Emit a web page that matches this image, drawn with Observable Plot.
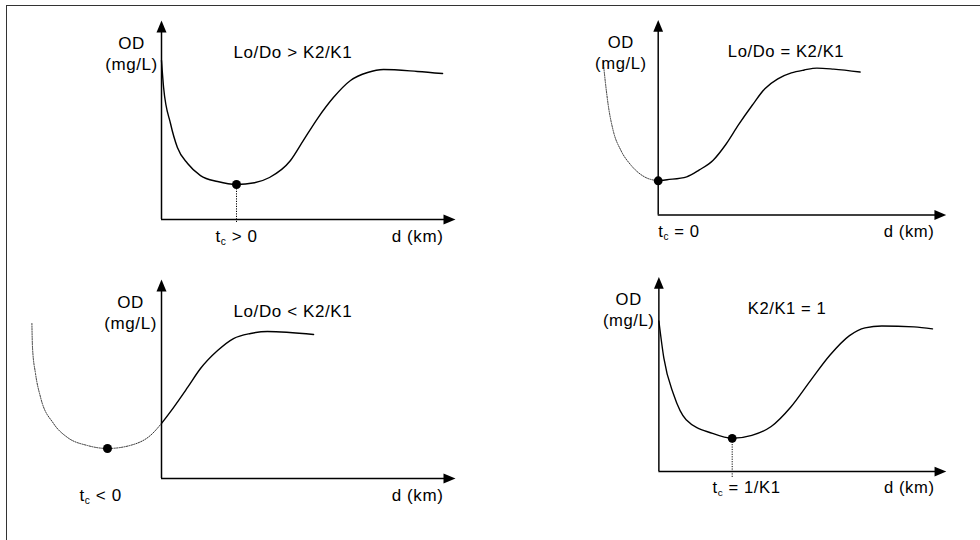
<!DOCTYPE html>
<html><head><meta charset="utf-8">
<script src="https://cdn.jsdelivr.net/npm/d3@7"></script>
<script src="https://cdn.jsdelivr.net/npm/@observablehq/plot@0.6"></script>
<style>
html,body{margin:0;padding:0;background:#fff;}
#wrap{position:relative;width:980px;height:540px;overflow:hidden;background:#fff;}
#frame{position:absolute;left:6px;top:5px;right:-10px;bottom:-10px;border-left:1.5px solid #333;border-top:1.5px solid #333;}
.panel{position:absolute;}
.panel svg{overflow:visible;}
.panel svg text{letter-spacing:0.6px;}
</style></head><body><div id="wrap"><div id="frame"></div></div>
<script>
// ---- text ----
const titles = ["Lo/Do > K2/K1", "Lo/Do = K2/K1", "Lo/Do < K2/K1", "K2/K1 = 1"];
const criticalLabels = ["t_c > 0", "t_c = 0", "t_c < 0", "t_c = 1/K1"];
const xAxisLabel = "d (km)";
const yAxisLabel = "OD\n(mg/L)";

// ---- panel A: Lo/Do > K2/K1 ----
const aDist = [0, 0.07, 0.3, 0.53, 0.87, 1.3, 1.87, 2.5, 3.1, 3.6, 4.3, 4.73, 5.2, 5.73, 6.3, 6.87, 7.4, 8.53, 9.37];
const aOD   = [10.6, 8.8, 6.4, 4.8, 3.73, 2.93, 2.53, 2.33, 2.45, 2.8, 3.93, 5.27, 6.73, 8.13, 9.27, 9.8, 10.0, 9.87, 9.73];
const aCrit = [2.5, 2.33];

// ---- panel B: Lo/Do = K2/K1 ----
const bDist = [0, 0.3, 0.97, 1.4, 1.87, 2.3, 2.73, 3.2, 3.63, 4.07, 4.53, 4.97, 5.4, 5.97, 6.87];
const bOD   = [2.33, 2.4, 2.6, 3.07, 3.73, 4.8, 6.13, 7.47, 8.6, 9.27, 9.67, 9.87, 10.0, 9.93, 9.73];
const bPastDist = [-1.87, -1.8, -1.7, -1.53, -1.27, -0.93, -0.47, 0];
const bPastOD   = [10.4, 9.07, 7.47, 5.73, 4.4, 3.4, 2.6, 2.33];
const bCrit = [0, 2.33];

// ---- panel C: Lo/Do < K2/K1 ----
const cDist = [0, 0.4, 0.87, 1.3, 1.87, 2.4, 2.97, 3.53, 5.07];
const cOD   = [3.67, 4.73, 6.07, 7.33, 8.53, 9.33, 9.67, 9.8, 9.6];
const cPastDist = [-4.32, -4.3, -4.2, -4.03, -3.6, -3.13, -2.47, -1.8, -0.93, -0.37, 0];
const cPastOD   = [10.33, 8.73, 7.0, 5.4, 3.67, 2.73, 2.2, 2.0, 2.27, 2.87, 3.67];
const cCrit = [-1.8, 2.0];

// ---- panel D: K2/K1 = 1 ----
const dDist = [0, 0.17, 0.5, 0.93, 1.83, 2.5, 3.17, 3.83, 4.5, 5.17, 5.83, 6.5, 7.03, 7.6, 8.7, 9.33];
const dOD   = [10.27, 7.73, 5.27, 3.53, 2.6, 2.27, 2.47, 3.07, 4.4, 6.2, 7.93, 9.27, 9.8, 9.93, 9.87, 9.73];
const dCrit = [2.5, 2.27];

// axis extents (data units)
const xAxisEnd = 9.8;
const yAxisEnd = 13.27;

const zip = (xs, ys) => xs.map((x, i) => ({x, y: ys[i]}));

// layout (positions of panels and labels)
const panels = [
  {left: 0,   top: 0,   solid: zip(aDist, aOD), past: null, crit: aCrit, drop: -0.2,
   title: titles[0], titleX: 2.4, yLabX: -1.0, tc: criticalLabels[0], tcX: 2.5, tcAnchor: "middle"},
  {left: 500, top: 0,   solid: zip(bDist, bOD), past: zip(bPastDist, bPastOD), crit: bCrit, drop: null,
   title: titles[1], titleX: 2.37, yLabX: -1.27, tc: criticalLabels[1], tcX: 0, tcAnchor: "start"},
  {left: 0,   top: 259, solid: zip(cDist, cOD), past: zip(cPastDist, cPastOD), crit: cCrit, drop: null,
   title: titles[2], titleX: 2.4, yLabX: -1.03, tc: criticalLabels[2], tcX: -2.03, tcAnchor: "middle"},
  {left: 501, top: 257, solid: zip(dDist, dOD), past: null, crit: dCrit, drop: -0.4,
   title: titles[3], titleX: 3.03, yLabX: -1.03, tc: criticalLabels[3], tcX: 1.83, tcAnchor: "start"}
];

const arrowHead = {draw(ctx) { ctx.moveTo(0, 0); ctx.lineTo(-5, 12); ctx.lineTo(5, 12); ctx.closePath(); }};
const FONT = "'Liberation Sans', Arial, sans-serif";
const FS = 17;

const wrap = document.getElementById("wrap");
for (const p of panels) {
  const marks = [
    Plot.ruleY([0], {x1: () => 0, x2: () => xAxisEnd - 0.2, stroke: "#000", strokeWidth: 1.5}),
    Plot.ruleX([0], {y1: () => 0, y2: () => yAxisEnd - 0.4, stroke: "#000", strokeWidth: 1.5}),
    Plot.dot([{x: xAxisEnd, y: 0}], {x: "x", y: "y", symbol: arrowHead, rotate: 90, r: 5, fill: "#000", stroke: "none"}),
    Plot.dot([{x: 0, y: yAxisEnd}], {x: "x", y: "y", symbol: arrowHead, rotate: 0, r: 5, fill: "#000", stroke: "none"})
  ];
  if (p.past) marks.push(Plot.line(p.past, {x: "x", y: "y", curve: "monotone-x", stroke: "#333", strokeWidth: 1, strokeDasharray: "1.2,1.3"}));
  marks.push(Plot.line(p.solid, {x: "x", y: "y", curve: "monotone-x", stroke: "#000", strokeWidth: 1.4}));
  if (p.drop !== null) marks.push(Plot.ruleX([p.crit], {x: d => d[0], y1: () => p.drop, y2: d => d[1], stroke: "#000", strokeWidth: 1, strokeDasharray: "1.2,1.3"}));
  marks.push(Plot.dot([p.crit], {x: d => d[0], y: d => d[1], r: 4.5, fill: "#000", stroke: "none"}));
  marks.push(Plot.text([{x: p.yLabX, y: 11.1, t: yAxisLabel}], {x: "x", y: "y", text: "t", textAnchor: "middle", lineHeight: 1.24, fontSize: FS, fill: "#000"}));
  marks.push(Plot.text([{x: p.titleX, y: 11.13, t: p.title}], {x: "x", y: "y", text: "t", textAnchor: "start", fontSize: FS, fill: "#000"}));
  marks.push(Plot.text([{x: p.tcX, y: -1.13, t: p.tc}], {x: "x", y: "y", text: "t", textAnchor: p.tcAnchor, fontSize: FS, fill: "#000"}));
  marks.push(Plot.text([{x: 9.4, y: -1.13, t: xAxisLabel}], {x: "x", y: "y", text: "t", textAnchor: "end", fontSize: FS, fill: "#000"}));

  const svg = Plot.plot({
    width: 490, height: 270, margin: 0,
    x: {domain: [-161 / 30, 329 / 30], axis: null},
    y: {domain: [-51 / 15, 219 / 15], axis: null},
    style: {fontFamily: FONT, fontSize: FS + "px", background: "transparent", overflow: "visible"},
    marks
  });
  d3.select(svg).selectAll("text").each(function () {
    const s = this.textContent;
    if (s.startsWith("t_c")) {
      const el = d3.select(this);
      el.text(null);
      el.append("tspan").text("t");
      el.append("tspan").attr("font-size", "0.6em").attr("dy", "0.3em").text("c");
      el.append("tspan").attr("dy", "-0.18em").text(s.slice(3));
    }
  });
  const div = document.createElement("div");
  div.className = "panel";
  div.style.left = p.left + "px";
  div.style.top = p.top + "px";
  div.appendChild(svg);
  wrap.appendChild(div);
}
</script>
</body></html>
